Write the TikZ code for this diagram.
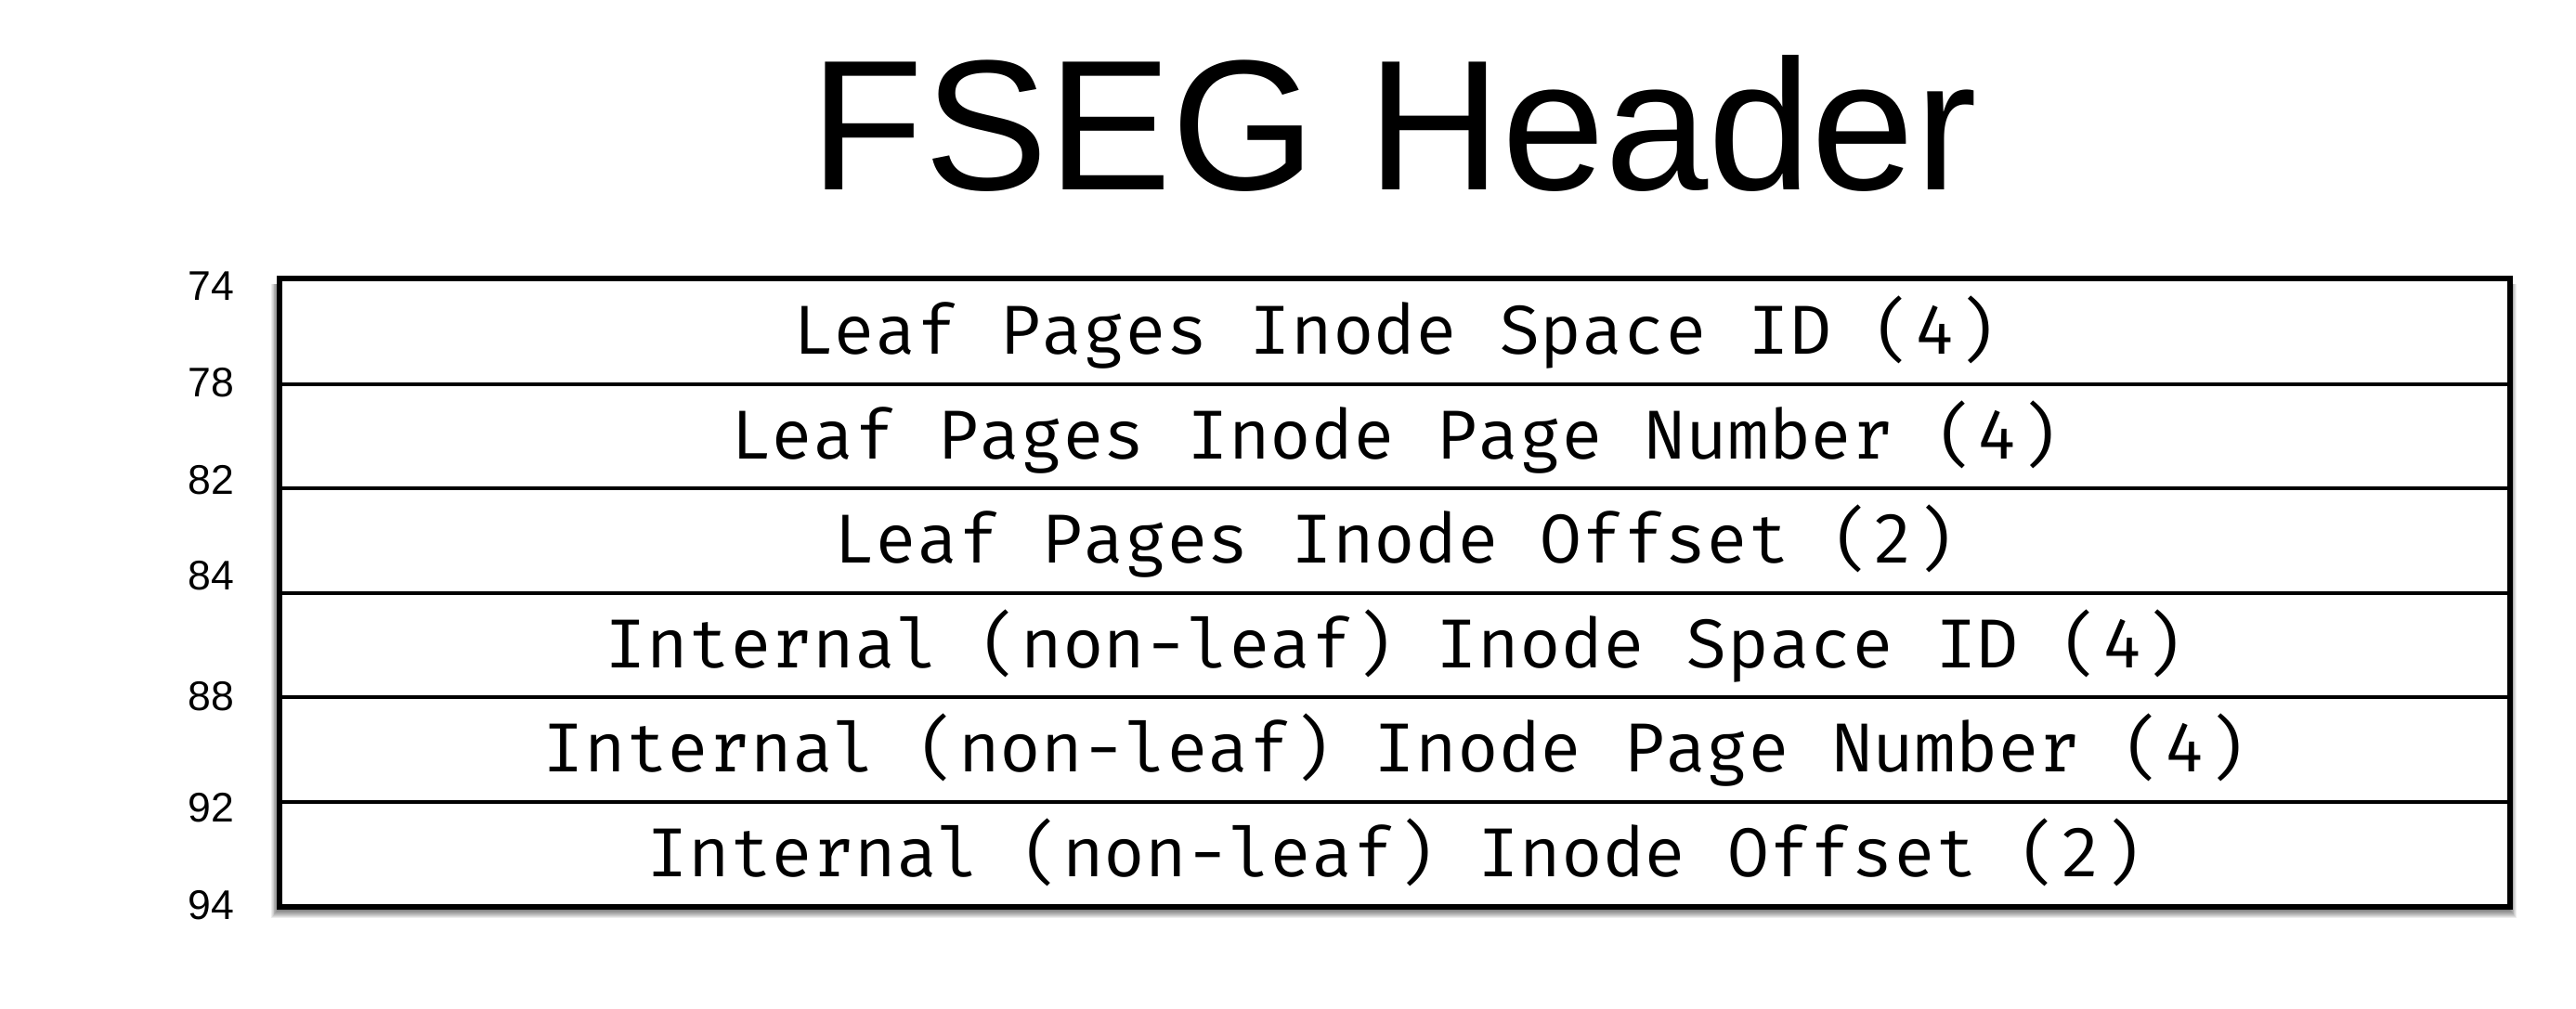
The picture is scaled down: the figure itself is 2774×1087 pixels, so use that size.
\documentclass[tikz,border=0pt]{standalone}
\usepackage{fontspec}
\setmainfont{Liberation Sans}
\newfontfamily\rowfont{Fira Mono}
\begin{document}
\begin{tikzpicture}[x=0.5pt,y=-0.5pt,
  rowbox/.style={draw=black, line width=2.2pt, minimum width=1200pt, minimum height=56.25pt,
    inner sep=0pt, font=\rowfont\fontsize{37.3}{40}\selectfont, text height=24.5pt, text depth=0pt,
    anchor=north west},
  offs/.style={anchor=base east, inner sep=0pt, font=\fontsize{22.3}{24}\selectfont},
  frame/.style={draw=black, line width=2.1pt, fill=white, minimum width=1200pt, minimum height=337.5pt,
    inner sep=0pt, anchor=north west},
  shadowlayer/.style={fill=black, opacity=0.07, draw=none},
]
\useasboundingbox (0,0) rectangle (2774,1087);
\node[anchor=base, inner sep=0pt, font=\fontsize{100}{110}\selectfont] (title) at (1501,204) {FSEG Header};
\foreach \r in {1,...,11}
  \fill[shadowlayer] (301-\r*0.8,306) rectangle (2701+\r*0.8,978+\r);
\node[frame] (box) at (300,299) {};
\node[rowbox] (r1) at (300,299)   {Leaf Pages Inode Space ID (4)};
\node[rowbox] (r2) at (300,411.5) {Leaf Pages Inode Page Number (4)};
\node[rowbox] (r3) at (300,524)   {Leaf Pages Inode Offset (2)};
\node[rowbox] (r4) at (300,636.5) {Internal (non-leaf) Inode Space ID (4)};
\node[rowbox] (r5) at (300,749)   {Internal (non-leaf) Inode Page Number (4)};
\node[rowbox] (r6) at (300,861.5) {Internal (non-leaf) Inode Offset (2)};
\draw[line width=2.1pt] (box.north west) rectangle (box.south east);
\node[offs] (o74) at (253,323) {74};
\node[offs] (o78) at (253,427) {78};
\node[offs] (o82) at (253,532) {82};
\node[offs] (o84) at (253,635) {84};
\node[offs] (o88) at (253,765) {88};
\node[offs] (o92) at (253,885) {92};
\node[offs] (o94) at (253,990) {94};
\end{tikzpicture}
\end{document}
